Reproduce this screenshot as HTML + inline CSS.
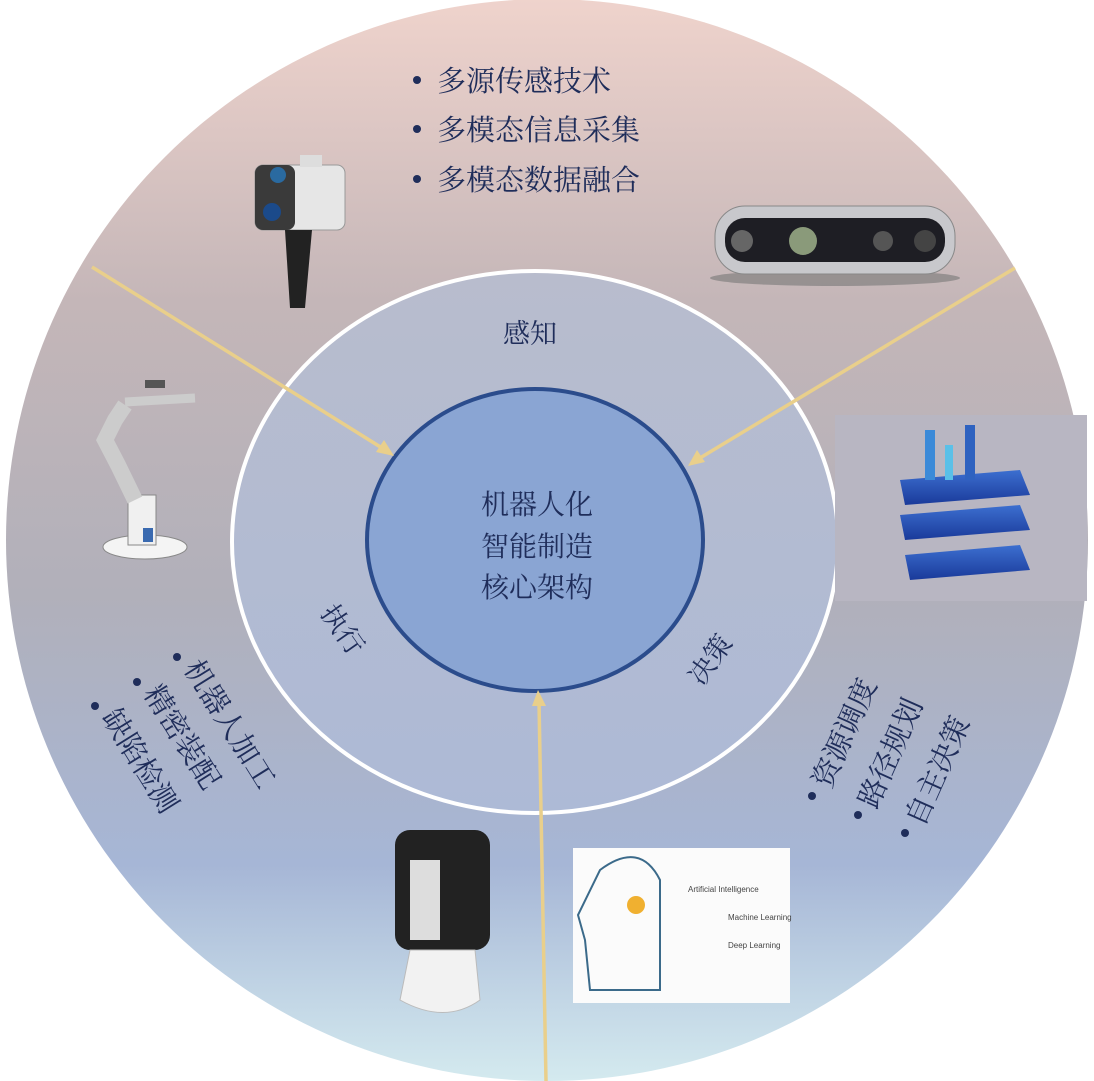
<!DOCTYPE html>
<html><head><meta charset="utf-8"><style>
html,body{margin:0;padding:0;background:#fff;}
svg{display:block;}
text{font-family:"Liberation Serif","Noto Serif CJK SC","Noto Sans CJK SC",serif;fill:#1f2d5a;}
</style></head><body>
<svg width="1094" height="1081" viewBox="0 0 1094 1081" xmlns="http://www.w3.org/2000/svg">
<defs>
<linearGradient id="bg" x1="0" y1="0" x2="0" y2="1">
<stop offset="0" stop-color="#efd3cc"/>
<stop offset="0.28" stop-color="#c4b6b8"/>
<stop offset="0.55" stop-color="#b1b0ba"/>
<stop offset="0.8" stop-color="#a6b6d6"/>
<stop offset="1" stop-color="#d4eaef"/>
</linearGradient>
<linearGradient id="ring" x1="0" y1="0" x2="0" y2="1">
<stop offset="0" stop-color="#b8bccd"/>
<stop offset="1" stop-color="#adbad6"/>
</linearGradient>
<linearGradient id="city" x1="0" y1="0" x2="0" y2="1">
<stop offset="0" stop-color="#3c6fd0"/><stop offset="1" stop-color="#1a3a9a"/>
</linearGradient>
</defs>
<circle cx="547" cy="540" r="541" fill="url(#bg)"/>
<ellipse cx="535" cy="542" rx="303" ry="271" fill="url(#ring)" stroke="#fff" stroke-width="4"/>
<ellipse cx="535" cy="540" rx="168" ry="151" fill="#8aa5d3" stroke="#2b4c8c" stroke-width="4"/>

<!-- arrows -->
<g stroke="#e9cf8b" stroke-width="3.5" fill="#e9cf8b">
<line x1="92" y1="267" x2="382" y2="448"/>
<polygon points="394,456 376,452 384,440" stroke="none"/>
<line x1="1015" y1="268" x2="700" y2="458"/>
<polygon points="688,466 697,450 705,462" stroke="none"/>
<line x1="546" y1="1081" x2="539" y2="702"/>
<polygon points="538,690 532,706 546,706" stroke="none"/>
</g>

<!-- top bullets -->
<g font-size="29">
<circle cx="417" cy="80" r="4" fill="#1f2d5a"/><text x="437" y="91">多源传感技术</text>
<circle cx="417" cy="129" r="4" fill="#1f2d5a"/><text x="437" y="140">多模态信息采集</text>
<circle cx="417" cy="179" r="4" fill="#1f2d5a"/><text x="437" y="190">多模态数据融合</text>
</g>
<text x="530" y="343" font-size="27" text-anchor="middle">感知</text>
<g font-size="28" text-anchor="middle">
<text x="537" y="514">机器人化</text>
<text x="537" y="556">智能制造</text>
<text x="537" y="597">核心架构</text>
</g>
<text font-size="27" text-anchor="middle" transform="translate(335,635) rotate(55)">执行</text>
<text font-size="27" text-anchor="middle" transform="translate(718,665) rotate(-55)">决策</text>

<!-- left bullets -->
<g font-size="29">
<circle cx="177" cy="657" r="4" fill="#1f2d5a"/>
<text transform="translate(183,668) rotate(58)">机器人加工</text>
<circle cx="137" cy="682" r="4" fill="#1f2d5a"/>
<text transform="translate(143,693) rotate(58)">精密装配</text>
<circle cx="95" cy="706" r="4" fill="#1f2d5a"/>
<text transform="translate(101,717) rotate(58)">缺陷检测</text>
</g>
<!-- right bullets -->
<g font-size="29">
<circle cx="812" cy="796" r="4" fill="#1f2d5a"/>
<text transform="translate(830,790) rotate(-66)">资源调度</text>
<circle cx="858" cy="815" r="4" fill="#1f2d5a"/>
<text transform="translate(876,810) rotate(-66)">路径规划</text>
<circle cx="905" cy="833" r="4" fill="#1f2d5a"/>
<text transform="translate(923,828) rotate(-66)">自主决策</text>
</g>

<!-- camera device -->
<g>
<rect x="255" y="165" width="90" height="65" rx="8" fill="#e6e6e6" stroke="#999"/>
<rect x="255" y="165" width="40" height="65" rx="8" fill="#3a3a3a"/>
<circle cx="272" cy="212" r="9" fill="#1b4a8a"/>
<circle cx="278" cy="175" r="8" fill="#2a6aa0"/>
<rect x="300" y="155" width="22" height="12" fill="#ddd"/>
<path d="M285 230 L312 230 L305 308 L290 308 Z" fill="#222"/>
</g>
<!-- depth camera -->
<g>
<ellipse cx="835" cy="278" rx="125" ry="8" fill="#777" opacity="0.6"/>
<rect x="715" y="206" width="240" height="68" rx="30" fill="#c8c8cc" stroke="#888"/>
<rect x="725" y="218" width="220" height="44" rx="20" fill="#1e1e24"/>
<circle cx="742" cy="241" r="11" fill="#666"/>
<circle cx="803" cy="241" r="14" fill="#8a9a7a"/>
<circle cx="883" cy="241" r="10" fill="#555"/>
<circle cx="925" cy="241" r="11" fill="#444"/>
</g>
<!-- robot arm -->
<g fill="#eee" stroke="#888">
<ellipse cx="145" cy="547" rx="42" ry="12" fill="#f4f4f4"/>
<rect x="128" y="495" width="28" height="50" fill="#f0f0f0"/>
<rect x="143" y="528" width="10" height="14" fill="#3a6ab0" stroke="none"/>
<path d="M135 500 L118 465 L105 440 L115 420 L125 405" stroke="#ccc" stroke-width="16" fill="none"/>
<path d="M125 402 L160 400 L195 398" stroke="#ccc" stroke-width="9" fill="none"/>
<rect x="145" y="380" width="20" height="8" fill="#555" stroke="none"/>
</g>
<!-- city -->
<g>
<rect x="835" y="415" width="252" height="186" fill="#b8b6c2"/>
<polygon points="900,480 1020,470 1030,495 905,505" fill="url(#city)"/>
<polygon points="900,515 1020,505 1030,530 905,540" fill="url(#city)"/>
<polygon points="905,555 1020,545 1030,570 910,580" fill="url(#city)"/>
<rect x="925" y="430" width="10" height="50" fill="#3b8ad8"/>
<rect x="945" y="445" width="8" height="35" fill="#5ac0e8"/>
<rect x="965" y="425" width="10" height="55" fill="#2e62c0"/>
</g>
<!-- hand -->
<g>
<rect x="395" y="830" width="95" height="120" rx="15" fill="#222"/>
<rect x="410" y="860" width="30" height="80" fill="#ddd"/>
<path d="M410 950 L475 950 L480 1000 Q445 1025 400 1000 Z" fill="#f2f2f2" stroke="#bbb"/>
</g>
<!-- AI image -->
<g>
<rect x="573" y="848" width="217" height="155" fill="#fbfbfb"/>
<path d="M600 870 Q640 840 660 880 L660 990 L590 990 L585 940 L578 915 Z" fill="none" stroke="#3b6a8a" stroke-width="2"/>
<circle cx="636" cy="905" r="9" fill="#f0b030"/>
<text x="688" y="892" font-size="8" style="font-family:'Liberation Sans',sans-serif;fill:#444">Artificial Intelligence</text>
<text x="728" y="920" font-size="8" style="font-family:'Liberation Sans',sans-serif;fill:#444">Machine Learning</text>
<text x="728" y="948" font-size="8" style="font-family:'Liberation Sans',sans-serif;fill:#444">Deep Learning</text>
</g>
</svg>
</body></html>
